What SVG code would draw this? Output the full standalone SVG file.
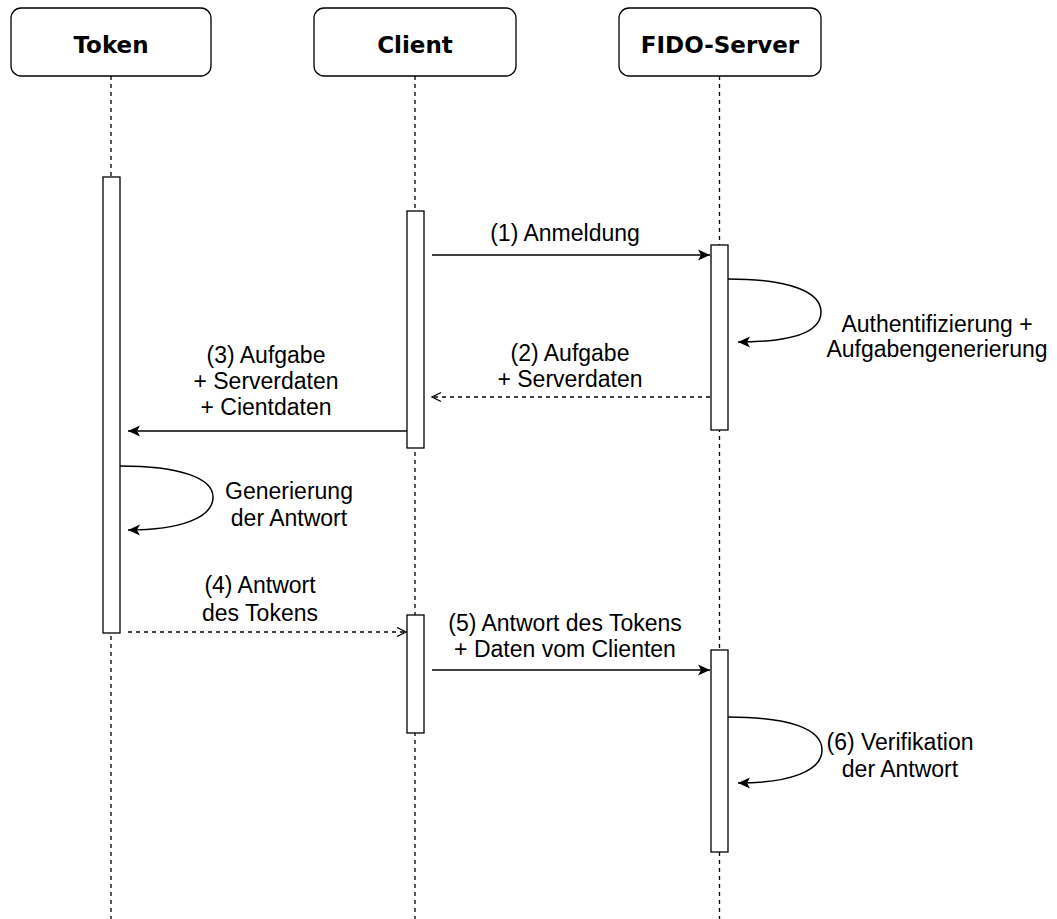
<svg xmlns="http://www.w3.org/2000/svg" width="1057" height="919" viewBox="0 0 1057 919">
<style>
.hdr{fill:#fff;stroke:#000;stroke-width:1.3}
.hdrt{font-family:"DejaVu Sans",Verdana,sans-serif;font-weight:bold;font-size:23px;text-anchor:middle;fill:#000}
.life{stroke:#000;stroke-width:1.3;stroke-dasharray:4 4;fill:none}
.bar{fill:#fff;stroke:#000;stroke-width:1.3}
.msg{stroke:#000;stroke-width:1.5;fill:none}
.dash{stroke-dasharray:4 4}
.lbl{font-family:"Liberation Sans",Arial,Helvetica,sans-serif;font-size:23px;text-anchor:middle;fill:#000}
</style>
<defs>
<marker id="block" markerUnits="userSpaceOnUse" markerWidth="14" markerHeight="12" refX="12" refY="6" orient="auto">
<path d="M0,0.5 L12,6 L0,11.5 L3,6 Z" fill="#000"/>
</marker>
<marker id="open" markerUnits="userSpaceOnUse" markerWidth="12" markerHeight="12" refX="10" refY="6" orient="auto">
<path d="M1,1.5 L10,6 L1,10.5" fill="none" stroke="#000" stroke-width="1.3"/>
</marker>
</defs>

<g id="lifelines">
<line class="life" x1="111" y1="76" x2="111" y2="919"/>
<line class="life" x1="415" y1="76" x2="415" y2="919"/>
<line class="life" x1="719.5" y1="76" x2="719.5" y2="919"/>
</g>

<g id="token">
<rect class="hdr" x="11" y="8" width="200" height="68" rx="10"/>
<text class="hdrt" x="111" y="53">Token</text>
</g>
<g id="client">
<rect class="hdr" x="314" y="8" width="202" height="68" rx="10"/>
<text class="hdrt" x="415" y="53">Client</text>
</g>
<g id="fido-server">
<rect class="hdr" x="619" y="8" width="202" height="68" rx="10"/>
<text class="hdrt" x="720" y="53">FIDO-Server</text>
</g>

<g id="activations">
<rect id="token-act" class="bar" x="103" y="177" width="17" height="456"/>
<rect id="client-act1" class="bar" x="407" y="211" width="17" height="237"/>
<rect id="fido-act1" class="bar" x="711" y="245" width="17" height="185"/>
<rect id="client-act2" class="bar" x="407" y="615" width="17" height="118"/>
<rect id="fido-act2" class="bar" x="711" y="650" width="17" height="202"/>
</g>

<g id="connectors">
<line class="msg" x1="432" y1="255" x2="710" y2="255" marker-end="url(#block)"/>
<path class="msg" d="M728,279 C790,279 821,292 821,312 C821,333 790,342 738,342" marker-end="url(#block)"/>
<line class="msg dash" x1="710" y1="397" x2="432" y2="397" marker-end="url(#open)"/>
<line class="msg" x1="407" y1="431" x2="128" y2="431" marker-end="url(#block)"/>
<path class="msg" d="M120,466 C180,466 213,478 213,497 C213,518 180,530 128,530" marker-end="url(#block)"/>
<line class="msg dash" x1="128" y1="632" x2="406" y2="632" marker-end="url(#open)"/>
<line class="msg" x1="432" y1="670" x2="710" y2="670" marker-end="url(#block)"/>
<path class="msg" d="M728,717 C790,717 822,729 822,750 C822,771 790,783 738,783" marker-end="url(#block)"/>
</g>

<g id="labels">
<text class="lbl" x="565" y="241">(1) Anmeldung</text>
<text class="lbl" x="937" y="332">Authentifizierung +</text>
<text class="lbl" x="937" y="357">Aufgabengenerierung</text>
<text class="lbl" x="570" y="361">(2) Aufgabe</text>
<text class="lbl" x="570" y="387">+ Serverdaten</text>
<text class="lbl" x="266" y="363">(3) Aufgabe</text>
<text class="lbl" x="266" y="389">+ Serverdaten</text>
<text class="lbl" x="266" y="415">+ Cientdaten</text>
<text class="lbl" x="289" y="499">Generierung</text>
<text class="lbl" x="289" y="526">der Antwort</text>
<text class="lbl" x="260" y="593">(4) Antwort</text>
<text class="lbl" x="260" y="621">des Tokens</text>
<text class="lbl" x="565" y="631">(5) Antwort des Tokens</text>
<text class="lbl" x="565" y="657">+ Daten vom Clienten</text>
<text class="lbl" x="900" y="750">(6) Verifikation</text>
<text class="lbl" x="900" y="777">der Antwort</text>
</g>
</svg>
